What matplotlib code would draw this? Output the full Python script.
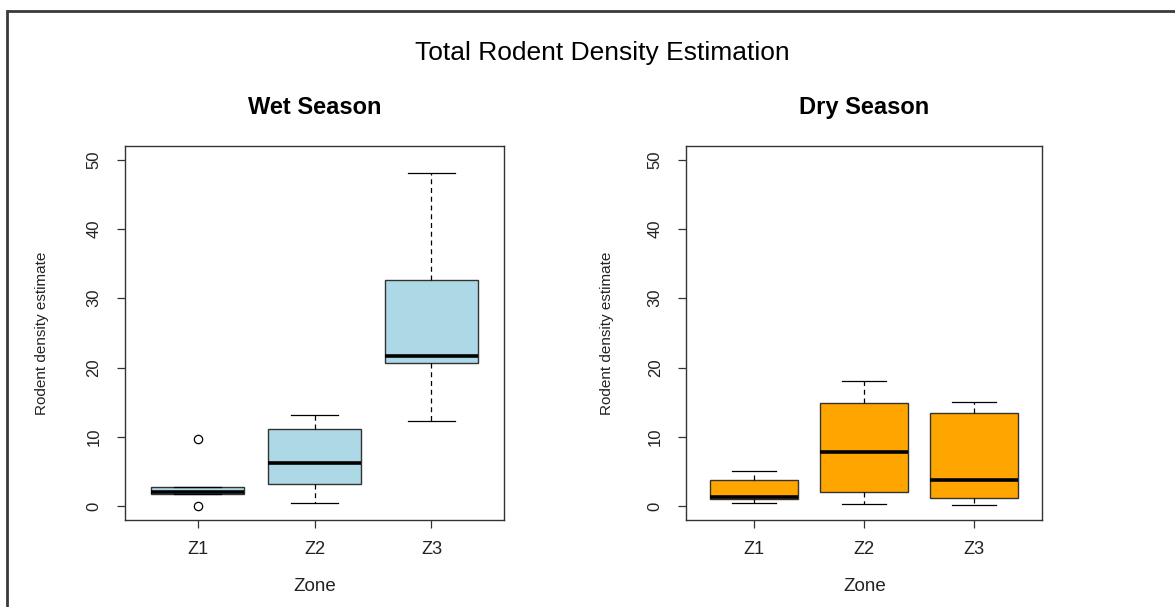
"""
Box plots of total rodent density per zone, wet vs dry season.
Box statistics (whiskers, quartiles, median) per zone, drawn with Axes.bxp.
"""
import matplotlib.pyplot as plt
from matplotlib.lines import Line2D

plt.rcParams["font.family"] = ["Liberation Sans", "DejaVu Sans"]

ZONES = ["Z1", "Z2", "Z3"]
Y_TICKS = [0, 10, 20, 30, 40, 50]

# wet season
WET_WHISLO = [1.8, 0.4, 12.3]
WET_Q1 = [1.8, 3.2, 20.6]
WET_MED = [2.0, 6.2, 21.6]
WET_Q3 = [2.75, 11.1, 32.6]
WET_WHISHI = [2.75, 13.2, 48.0]
WET_FLIERS = [[9.7, 0.0], [], []]

# dry season
DRY_WHISLO = [0.5, 0.25, 0.1]
DRY_Q1 = [1.1, 2.0, 1.2]
DRY_MED = [1.25, 7.8, 3.8]
DRY_Q3 = [3.8, 14.9, 13.4]
DRY_WHISHI = [5.05, 18.05, 15.0]
DRY_FLIERS = [[], [], []]

EDGE = "#333333"
TEXT = "#222222"
FIG_W, FIG_H = 1175, 607


def build_stats(whislo, q1, med, q3, whishi, fliers):
    return [
        {"label": zone, "whislo": lo, "q1": a, "med": m, "q3": b, "whishi": hi, "fliers": f}
        for zone, lo, a, m, b, hi, f in zip(ZONES, whislo, q1, med, q3, whishi, fliers)
    ]


def draw_panel(ax, stats, color, title, label_x):
    ax.bxp(
        stats,
        positions=[1, 2, 3],
        widths=0.8,
        capwidths=0.4,
        patch_artist=True,
        boxprops=dict(facecolor=color, edgecolor=EDGE, linewidth=1.0),
        medianprops=dict(color="black", linewidth=2.6, solid_capstyle="butt"),
        whiskerprops=dict(color="black", linewidth=0.9, linestyle=(0, (4, 3))),
        capprops=dict(color="black", linewidth=0.9),
        flierprops=dict(marker="o", markerfacecolor="none", markeredgecolor="black",
                        markersize=6, markeredgewidth=0.9),
    )
    ax.set_xlim(0.38, 3.62)
    ax.set_ylim(-2, 52)
    ax.set_xticks([1, 2, 3])
    ax.set_xticklabels(ZONES)
    ax.set_yticks(Y_TICKS)

    for spine in ax.spines.values():
        spine.set_color(EDGE)
        spine.set_linewidth(1.0)

    ax.tick_params(axis="both", direction="out", length=6, width=0.9, colors=EDGE, labelcolor=TEXT)
    ax.tick_params(axis="x", pad=9, labelsize=13)
    ax.tick_params(axis="y", pad=11, labelsize=12, labelrotation=90)
    for lab in ax.get_yticklabels():
        lab.set_va("center")

    ax.set_title(title, fontsize=17, fontweight="bold", color="black", pad=23)
    ax.set_xlabel("Zone", fontsize=13.5, color=TEXT)
    ax.xaxis.set_label_coords(0.5, -0.19)
    ax.xaxis.label.set_va("baseline")
    ax.set_ylabel("Rodent density estimate", fontsize=11, color=TEXT)
    ax.yaxis.set_label_coords(label_x, 0.5)
    ax.yaxis.label.set_va("center")


def main():
    fig = plt.figure(figsize=(FIG_W / 100, FIG_H / 100), dpi=100)

    ax_wet = fig.add_axes([125 / FIG_W, 1 - 520 / FIG_H, 379 / FIG_W, 374.3 / FIG_H])
    ax_dry = fig.add_axes([686.3 / FIG_W, 1 - 520 / FIG_H, 356 / FIG_W, 374.3 / FIG_H])

    wet = build_stats(WET_WHISLO, WET_Q1, WET_MED, WET_Q3, WET_WHISHI, WET_FLIERS)
    dry = build_stats(DRY_WHISLO, DRY_Q1, DRY_MED, DRY_Q3, DRY_WHISHI, DRY_FLIERS)
    draw_panel(ax_wet, wet, "#ADD8E6", "Wet Season", -0.218)
    draw_panel(ax_dry, dry, "#FFA500", "Dry Season", -0.224)

    fig.text(602 / FIG_W, 1 - 60 / FIG_H, "Total Rodent Density Estimation",
             ha="center", va="baseline", fontsize=19, color="black")

    # frame: top and left edges only
    y_top = 1 - 11 / FIG_H
    x_left = 7 / FIG_W
    fig.add_artist(Line2D([x_left, 1], [y_top, y_top], color="#3a3a3a", linewidth=2.0,
                          transform=fig.transFigure, solid_capstyle="butt"))
    fig.add_artist(Line2D([x_left, x_left], [0, y_top], color="#3a3a3a", linewidth=2.0,
                          transform=fig.transFigure, solid_capstyle="projecting"))

    fig.savefig("out.png", dpi=100)
    plt.close(fig)


if __name__ == "__main__":
    main()
